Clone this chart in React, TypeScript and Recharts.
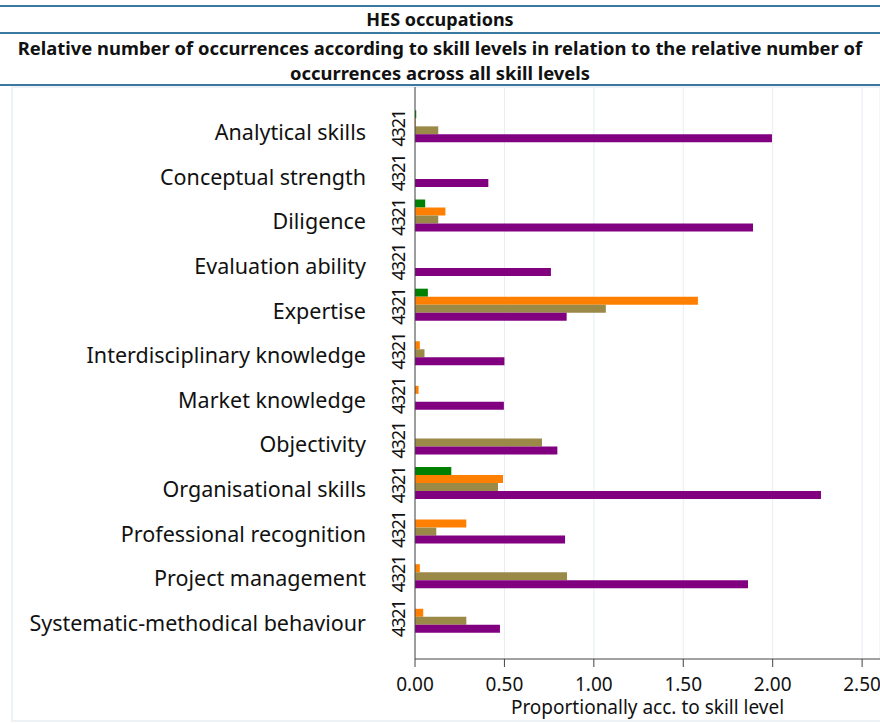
import React from 'react';
import { BarChart, Bar, XAxis, YAxis, CartesianGrid } from 'recharts';

const skills = [
    'Analytical skills',
    'Conceptual strength',
    'Diligence',
    'Evaluation ability',
    'Expertise',
    'Interdisciplinary knowledge',
    'Market knowledge',
    'Objectivity',
    'Organisational skills',
    'Professional recognition',
    'Project management',
    'Systematic-methodical behaviour',
];

// skill levels 4..1
const level4 = [0.007, 0, 0.057, 0, 0.072, 0, 0, 0, 0.203, 0, 0, 0];
const level3 = [0.004, 0, 0.17, 0, 1.582, 0.027, 0.02, 0, 0.492, 0.287, 0.027, 0.046];
const level2 = [0.13, 0, 0.13, 0, 1.067, 0.053, 0, 0.71, 0.464, 0.119, 0.85, 0.287];
const level1 = [1.996, 0.41, 1.89, 0.76, 0.848, 0.5, 0.497, 0.796, 2.27, 0.839, 1.862, 0.475];

const xTicks = [0, 0.5, 1, 1.5, 2, 2.5];
const levelLabel = '4321';

const data = skills.map((name, i) => ({
    name,
    l4: level4[i],
    l3: level3[i],
    l2: level2[i],
    l1: level1[i],
}));

const FONT = '"Noto Sans", "Open Sans", sans-serif';
const RULE = '#3b78a0';

function SkillTick({ x, y, payload }: any) {
    return (
        <g>
            <text x={x - 49} y={y} dy={13} textAnchor="end" fontSize={21.5} fill="#111" fontFamily={FONT}>
                {payload.value}
            </text>
            <text
                transform={`translate(${x - 16}, ${y + 1}) rotate(-90)`}
                textAnchor="middle"
                dy="0.36em"
                fontSize={18}
                letterSpacing={-1.2}
                fill="#111"
                fontFamily={FONT}
            >
                {levelLabel}
            </text>
        </g>
    );
}

export default function App() {
    return (
        <div style={{ position: 'absolute', left: 0, top: 0, width: 880, height: 724, background: '#fff', fontFamily: FONT, overflow: 'hidden' }}>
            <div style={{ position: 'absolute', left: 0, top: 5, width: 880, height: 2, background: RULE }} />
            <div style={{ position: 'absolute', left: 0, top: 7, width: 880, height: 25, textAlign: 'center', fontWeight: 700, fontSize: 18, lineHeight: '25px', color: '#111' }}>
                HES occupations
            </div>
            <div style={{ position: 'absolute', left: 0, top: 32, width: 880, height: 2, background: RULE }} />
            <div style={{ position: 'absolute', left: 0, top: 35, width: 880, height: 50, textAlign: 'center', fontWeight: 700, fontSize: 18.4, lineHeight: '25px', color: '#111', whiteSpace: 'nowrap' }}>
                Relative number of occurrences according to skill levels in relation to the relative number of
                <br />
                occurrences across all skill levels
            </div>
            <div style={{ position: 'absolute', left: 0, top: 84, width: 880, height: 2, background: RULE }} />
            <div style={{ position: 'absolute', left: 11, top: 86, width: 880, height: 636, border: '2px solid #edf2f6', boxSizing: 'border-box' }} />
            <div style={{ position: 'absolute', left: 0, top: 85, width: 880, height: 639, overflow: 'hidden' }}>
                <BarChart
                    width={920}
                    height={639}
                    data={data}
                    layout="vertical"
                    margin={{ top: 2, right: 40, bottom: 0, left: 0 }}
                    barCategoryGap="12%"
                    barGap={0}
                >
                    <CartesianGrid horizontal={false} stroke="#e6edf3" />
                    <XAxis
                        type="number"
                        domain={[0, 2.6]}
                        ticks={xTicks}
                        tickFormatter={(v) => v.toFixed(2)}
                        tickSize={8}
                        tickMargin={11}
                        height={65}
                        stroke="#444"
                        tick={{ fill: '#111', fontSize: 19, fontFamily: FONT }}
                        label={{ value: 'Proportionally acc. to skill level', position: 'insideBottom', offset: 10, fill: '#111', fontSize: 19, fontFamily: FONT }}
                    />
                    <YAxis
                        type="category"
                        dataKey="name"
                        width={415}
                        tickLine={false}
                        tickSize={0}
                        tickMargin={0}
                        stroke="#444"
                        padding={{ top: 18, bottom: 19 }}
                        tick={<SkillTick />}
                        interval={0}
                    />
                    <Bar dataKey="l4" fill="#008000" isAnimationActive={false} />
                    <Bar dataKey="l3" fill="#ff8000" isAnimationActive={false} />
                    <Bar dataKey="l2" fill="#9b8948" isAnimationActive={false} />
                    <Bar dataKey="l1" fill="#800080" isAnimationActive={false} />
                </BarChart>
            </div>
        </div>
    );
}
